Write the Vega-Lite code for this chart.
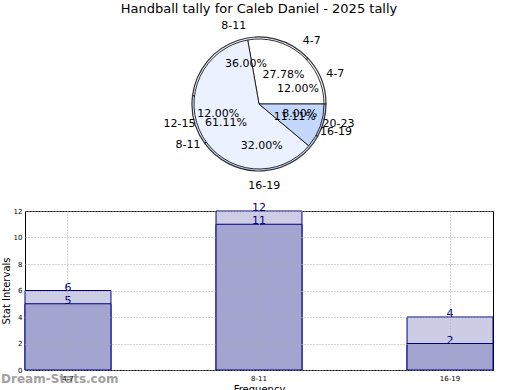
{
  "$schema": "https://vega.github.io/schema/vega-lite/v6.json",
  "padding": {"left": 0, "top": 3, "right": 0, "bottom": 0},
  "bounds": "flush",
  "spacing": 32,
  "config": {
    "font": "DejaVu Sans",
    "view": {"stroke": null},
    "title": {"font": "DejaVu Sans", "fontWeight": "normal", "color": "black"},
    "axis": {"labelFont": "DejaVu Sans", "titleFont": "DejaVu Sans"}
  },
  "datasets": {
    "lower": [
      {"cat": "4-7", "p": 0.12, "n": 1},
      {"cat": "8-11", "p": 0.36, "n": 2},
      {"cat": "12-15", "p": 0.12, "n": 3},
      {"cat": "16-19", "p": 0.32, "n": 4},
      {"cat": "20-23", "p": 0.08, "n": 5}
    ],
    "upper": [
      {"cat": "4-7", "p": 0.2778, "n": 1},
      {"cat": "8-11", "p": 0.6111, "n": 2},
      {"cat": "16-19", "p": 0.1111, "n": 3}
    ],
    "bars": [
      {"cat": "4-7", "a": 5, "b": 6},
      {"cat": "8-11", "a": 11, "b": 12},
      {"cat": "16-19", "a": 2, "b": 4}
    ]
  },
  "vconcat": [
    {
      "title": {"text": "Handball tally for Caleb Daniel - 2025 tally", "fontSize": 13, "anchor": "middle", "offset": 4},
      "width": 468,
      "height": 150,
      "view": {"stroke": null},
      "encoding": {
        "theta": {"field": "p", "type": "quantitative", "stack": "normalize", "scale": {"domain": [0, 1], "range": [1.5708, -4.7124]}},
        "order": {"field": "n", "type": "quantitative"}
      },
      "layer": [
        {
          "data": {"name": "lower"},
          "mark": {"type": "arc", "radius": 67, "stroke": "#333333", "strokeWidth": 1.2},
          "encoding": {
            "color": {"field": "cat", "type": "nominal", "legend": null,
              "scale": {"domain": ["4-7", "8-11", "12-15", "16-19", "20-23"], "range": ["#ffffff", "#ebf1ff", "#dbe6ff", "#c4d8ff", "#b3ccff"]}}
          }
        },
        {
          "data": {"name": "upper"},
          "mark": {"type": "arc", "radius": 65, "stroke": "black", "strokeWidth": 0.8},
          "encoding": {
            "color": {"field": "cat", "type": "nominal", "legend": null}
          }
        },
        {
          "data": {"name": "lower"},
          "mark": {"type": "text", "radius": 42, "fontSize": 11, "color": "black"},
          "encoding": {"text": {"field": "p", "type": "quantitative", "format": ".2%"}}
        },
        {
          "data": {"name": "lower"},
          "mark": {"type": "text", "radius": 82, "fontSize": 11, "color": "black"},
          "encoding": {"text": {"field": "cat", "type": "nominal"}}
        },
        {
          "data": {"name": "upper"},
          "mark": {"type": "text", "radius": 38, "fontSize": 11, "color": "black"},
          "encoding": {"text": {"field": "p", "type": "quantitative", "format": ".2%"}}
        },
        {
          "data": {"name": "upper"},
          "mark": {"type": "text", "radius": 82, "fontSize": 11, "color": "black"},
          "encoding": {"text": {"field": "cat", "type": "nominal"}}
        }
      ]
    },
    {
      "title": {"text": "Dream-Stats.com", "orient": "bottom", "anchor": "start", "frame": "bounds", "color": "#a0a0a0", "fontSize": 12, "fontWeight": "bold", "dy": -20, "offset": 0},
      "width": 468,
      "height": 159,
      "view": {"stroke": "black", "strokeWidth": 1},
      "data": {"name": "bars"},
      "encoding": {
        "x": {"field": "cat", "type": "nominal", "sort": null,
          "scale": {"paddingInner": 0.55, "paddingOuter": 0},
          "axis": {"title": "Frequency", "titleFontSize": 10, "titleFontWeight": "normal", "titlePadding": 3, "labelAngle": 0, "labelFontSize": 7, "labelPadding": 4, "ticks": false, "domain": false, "bandPosition": 0.5, "grid": true, "gridDash": [1, 2], "gridColor": "#aaaaaa", "zindex": 1}}
      },
      "layer": [
        {
          "mark": {"type": "bar", "fill": "#cccce5", "stroke": "#000080", "strokeWidth": 1},
          "encoding": {"y": {"field": "b", "type": "quantitative", "scale": {"domain": [0, 12]},
            "axis": {"title": "Stat Intervals", "titleFontSize": 10, "titleFontWeight": "normal", "titlePadding": 2, "values": [0, 2, 4, 6, 8, 10, 12], "labelFontSize": 7, "labelPadding": 3, "labelOverlap": false, "ticks": false, "domain": false, "grid": true, "gridDash": [1, 2], "gridColor": "#aaaaaa", "zindex": 1}}}
        },
        {
          "mark": {"type": "bar", "fill": "#a3a5d0", "stroke": "#000080", "strokeWidth": 1},
          "encoding": {"y": {"field": "a", "type": "quantitative",
            "axis": {"title": "Stat Intervals", "titleFontSize": 10, "titleFontWeight": "normal", "titlePadding": 2, "values": [0, 2, 4, 6, 8, 10, 12], "labelFontSize": 7, "labelPadding": 3, "labelOverlap": false, "ticks": false, "domain": false, "grid": true, "gridDash": [1, 2], "gridColor": "#aaaaaa", "zindex": 1}}}
        },
        {
          "mark": {"type": "text", "baseline": "bottom", "dy": 2, "fontSize": 11, "color": "#000080"},
          "encoding": {"y": {"field": "b", "type": "quantitative",
            "axis": {"title": "Stat Intervals", "titleFontSize": 10, "titleFontWeight": "normal", "titlePadding": 2, "values": [0, 2, 4, 6, 8, 10, 12], "labelFontSize": 7, "labelPadding": 3, "labelOverlap": false, "ticks": false, "domain": false, "grid": true, "gridDash": [1, 2], "gridColor": "#aaaaaa", "zindex": 1}}, "text": {"field": "b", "type": "quantitative"}}
        },
        {
          "mark": {"type": "text", "baseline": "bottom", "dy": 2, "fontSize": 11, "color": "#000080"},
          "encoding": {"y": {"field": "a", "type": "quantitative",
            "axis": {"title": "Stat Intervals", "titleFontSize": 10, "titleFontWeight": "normal", "titlePadding": 2, "values": [0, 2, 4, 6, 8, 10, 12], "labelFontSize": 7, "labelPadding": 3, "labelOverlap": false, "ticks": false, "domain": false, "grid": true, "gridDash": [1, 2], "gridColor": "#aaaaaa", "zindex": 1}}, "text": {"field": "a", "type": "quantitative"}}
        }
      ]
    }
  ]
}
